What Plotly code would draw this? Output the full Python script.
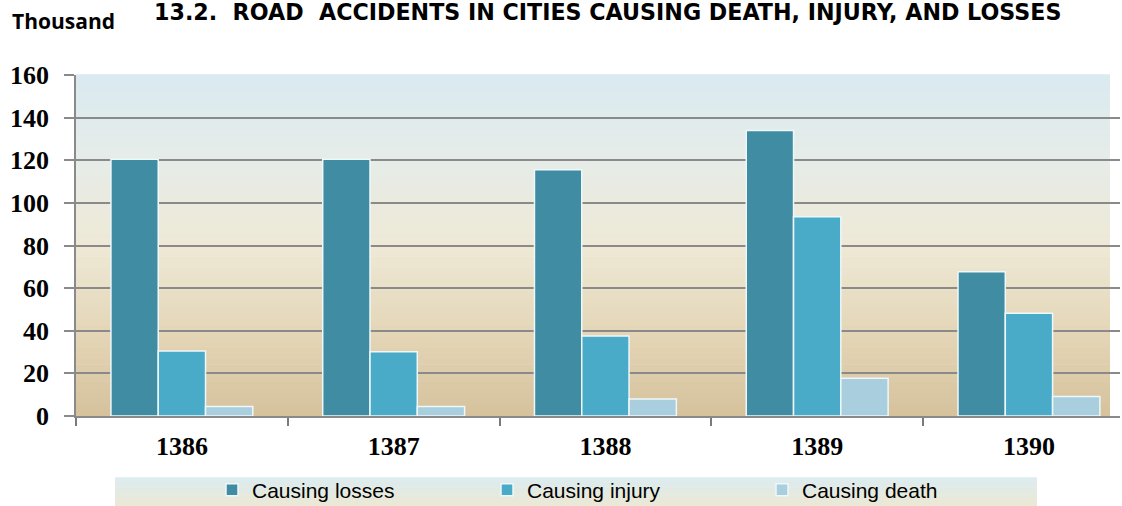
import plotly.graph_objects as go

years = ["1386", "1387", "1388", "1389", "1390"]
losses = [120.5, 120.5, 115.5, 134, 67.7]
injury = [30.5, 30.2, 37.5, 93.5, 48.2]
death = [4.4, 4.5, 8.0, 17.7, 9.1]
series_names = ["Causing losses", "Causing injury", "Causing death"]
series_colors = ["#3f8ca3", "#4aabc8", "#a9cfdf"]
y_ticks = [0, 20, 40, 60, 80, 100, 120, 140, 160]

fig = go.Figure()
for name, vals, col in zip(series_names, [losses, injury, death], series_colors):
    fig.add_trace(go.Bar(
        x=years, y=vals, name=name,
        marker=dict(color=col, line=dict(color="#eef7fa", width=1.5)),
    ))


def lerp(c1, c2, t):
    return tuple(round(a + (b - a) * t) for a, b in zip(c1, c2))


def grad(stops, t):
    for i in range(len(stops) - 1):
        p0, c0 = stops[i]
        p1, c1 = stops[i + 1]
        if p0 <= t <= p1:
            return lerp(c0, c1, (t - p0) / (p1 - p0) if p1 > p0 else 0)
    return stops[-1][1]

L, R, T, B = 76, 2, 75, 90
W, H = 1122, 506
PW, PH = W - L - R, H - T - B


def px_x(x):
    return (x - L) / PW


def px_y(y):
    return (H - B - y) / PH

# plot background gradient (bottom=0 -> top=1)
bg_stops = [(0.0, (214, 194, 156)), (0.25, (228, 214, 184)), (0.5, (238, 233, 214)),
            (0.75, (230, 236, 232)), (1.0, (218, 234, 240))]
shapes = []
N = 60
for i in range(N):
    c = grad(bg_stops, (i + 0.5) / N)
    shapes.append(dict(type="rect", xref="x domain", yref="y domain",
                       x0=0, x1=px_x(1110), y0=i / N, y1=(i + 1) / N + 0.002,
                       fillcolor="rgb(%d,%d,%d)" % c, line=dict(width=0), layer="below"))

# legend band gradient (bottom cream -> top light blue)
lg_stops = [(0.0, (236, 232, 212)), (1.0, (220, 236, 240))]
M = 14
top_px, bot_px = 478, 506
for i in range(M):
    c = grad(lg_stops, (i + 0.5) / M)
    y0p = bot_px - (bot_px - top_px) * i / M
    y1p = bot_px - (bot_px - top_px) * (i + 1) / M
    shapes.append(dict(type="rect", xref="paper", yref="paper",
                       x0=px_x(115), x1=px_x(1037),
                       y0=px_y(y0p), y1=px_y(y1p) + 0.002,
                       fillcolor="rgb(%d,%d,%d)" % c, line=dict(width=0), layer="below"))

fig.update_layout(
    width=W, height=H,
    margin=dict(l=L, r=R, t=T, b=B, autoexpand=False),
    paper_bgcolor="white", plot_bgcolor="rgba(0,0,0,0)",
    barmode="group", bargap=0.33, bargroupgap=0,
    shapes=shapes,
    showlegend=True,
    legend=dict(orientation="h", x=px_x(212), xanchor="left", y=px_y(490),
                yanchor="middle", bgcolor="rgba(0,0,0,0)",
                font=dict(family="Liberation Sans, Arial", size=21, color="black"),
                entrywidth=230, entrywidthmode="pixels", itemclick=False),
    annotations=[
        dict(text="<b>Thousand</b>", xref="paper", yref="paper", x=px_x(10), y=px_y(21),
             xanchor="left", yanchor="middle", showarrow=False,
             font=dict(family="Open Sans, Liberation Sans", size=21, color="black")),
        dict(text="<b>13.2.  ROAD  ACCIDENTS IN CITIES CAUSING DEATH, INJURY, AND LOSSES</b>",
             xref="paper", yref="paper", x=px_x(152), y=px_y(12),
             xanchor="left", yanchor="middle", showarrow=False,
             font=dict(family="DejaVu Sans", size=22.2, color="black")),
    ],
)

fig.update_xaxes(
    range=[-0.5, 4.43], showgrid=False, tickson="boundaries", ticks="outside",
    ticklen=8, tickwidth=1.5, tickcolor="#7a7a7a",
    showline=True, linecolor="#8a8a8a", linewidth=2,
    tickfont=dict(family="Liberation Serif, Times New Roman", size=26, color="black", weight="bold"),
    ticklabelstandoff=6, fixedrange=True,
)
fig.update_yaxes(
    range=[0, 160], tickvals=y_ticks, showgrid=True, gridcolor="#8a8a8a", gridwidth=1.5,
    ticks="outside", ticklen=10, tickwidth=1.5, tickcolor="#8a8a8a",
    showline=True, linecolor="#8a8a8a", linewidth=1.5, zeroline=False,
    tickfont=dict(family="Liberation Serif, Times New Roman", size=26, color="black", weight="bold"),
    ticklabelstandoff=10, fixedrange=True,
)

fig.write_html("out.html", config={"displayModeBar": False},
               post_script="document.body.style.margin='0';")
